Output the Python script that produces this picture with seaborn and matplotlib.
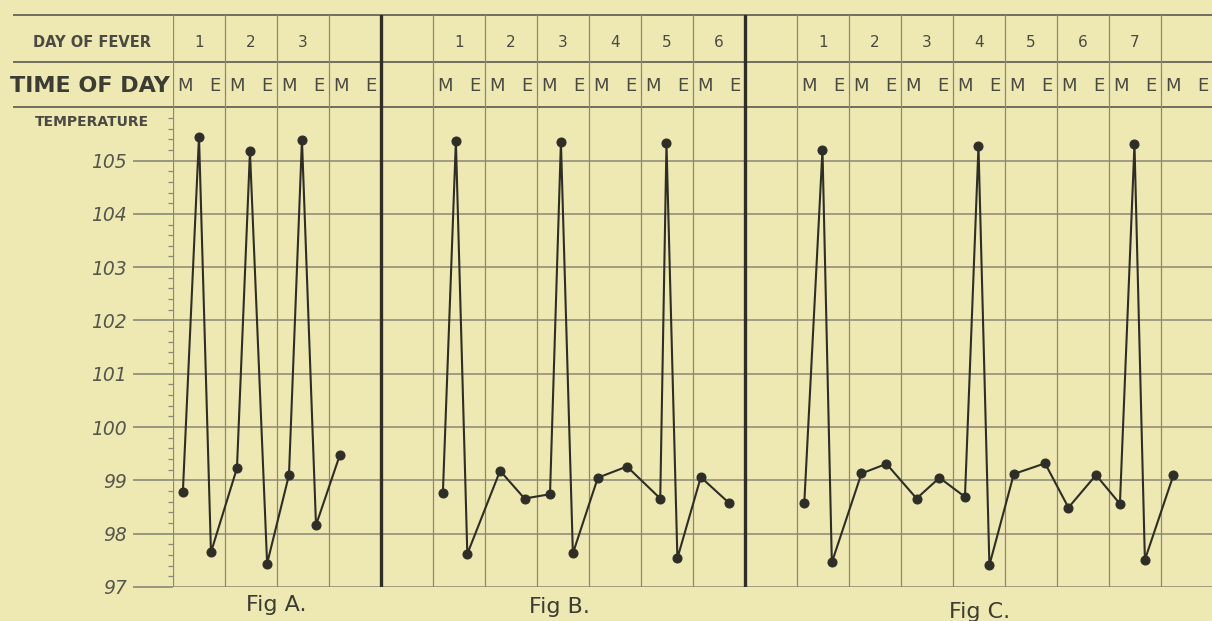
"""
plot.py - old malaria fever chart (Fig A, B, C), redrawn with seaborn
"""

import numpy as np
import pandas as pd
import matplotlib.pyplot as plt
import seaborn as sns

# readings: x is position in day-columns from the left edge of the grid
fig_a_x = [0.19, 0.50, 0.73, 1.23, 1.48, 1.81, 2.23, 2.48, 2.75, 3.21]
fig_a_temp = [98.79, 105.45, 97.65, 99.23, 105.17, 97.44, 99.10, 105.39, 98.16, 99.48]

fig_b_x = [5.19, 5.44, 5.66, 6.29, 6.76, 7.25, 7.46, 7.69, 8.17, 8.73,
           9.37, 9.49, 9.70, 10.15, 10.70]
fig_b_temp = [98.76, 105.37, 97.62, 99.18, 98.66, 98.74, 105.35, 97.63, 99.05, 99.26,
              98.66, 105.32, 97.54, 99.06, 98.57]

fig_c_x = [12.14, 12.49, 12.67, 13.24, 13.72, 14.30, 14.74, 15.23, 15.49, 15.70,
           16.17, 16.77, 17.22, 17.75, 18.21, 18.49, 18.69, 19.24]
fig_c_temp = [98.57, 105.20, 97.46, 99.13, 99.31, 98.66, 99.05, 98.69, 105.27, 97.41,
              99.12, 99.32, 98.49, 99.10, 98.56, 105.31, 97.51, 99.10]

# header labels
fig_a_days = ['1', '2', '3', '']
fig_b_days = ['1', '2', '3', '4', '5', '6']
fig_c_days = ['1', '2', '3', '4', '5', '6', '7', '']
fig_names = ['Fig A.', 'Fig B.', 'Fig C.']
temp_ticks = list(range(97, 106))

# layout (in day-columns / degrees)
panel_start = [0, 5, 12]
separators = [4, 11]
fig_label_x = [1.98, 7.44, 15.52]
fig_label_y = [96.66, 96.62, 96.53]

paper = '#EEE9B2'
ink = '#2e2d28'
rule = '#8a8874'
text_col = '#4a4a42'

df = pd.concat([
    pd.DataFrame({'x': fig_a_x, 'temp': fig_a_temp, 'fig': 'A'}),
    pd.DataFrame({'x': fig_b_x, 'temp': fig_b_temp, 'fig': 'B'}),
    pd.DataFrame({'x': fig_c_x, 'temp': fig_c_temp, 'fig': 'C'}),
])

sns.set_theme(style='white')
plt.rcParams['font.family'] = ['DejaVu Sans']

fig = plt.figure(figsize=(12.12, 6.21), dpi=100, facecolor=paper)
ax = fig.add_axes([173 / 1212, 34 / 621, 1039 / 1212, 572 / 621])
ax.set_facecolor(paper)
ax.set_xlim(0, 1039 / 52)
ax.set_ylim(97, 107.73)

for s in ax.spines.values():
    s.set_visible(False)

# temperature grid + ticks
ax.set_yticks(temp_ticks)
ax.set_yticklabels([str(t) for t in temp_ticks], fontstyle='italic')
ax.set_yticks(np.arange(97, 106, 0.2), minor=True)
ax.tick_params(axis='y', which='major', length=29, width=1.2, color=rule,
               pad=4, labelsize=13.5, labelcolor='#56564c', left=True)
ax.tick_params(axis='y', which='minor', length=3.6, width=0.9, color=rule, left=True)
ax.tick_params(axis='x', bottom=False, labelbottom=False)
for t in temp_ticks:
    ax.axhline(t, color=rule, lw=1.1, zorder=1)

# header rows
x_left = -160 / 52
for y in [106.0, 106.85, 107.73]:
    ax.hlines(y, x_left, 1039 / 52, color='#6f6d5c', lw=1.4, clip_on=False, zorder=1)

# day columns
for c in range(0, 20):
    if c in separators:
        ax.axvline(c, color=ink, lw=2.4, zorder=2)
    else:
        ax.axvline(c, color=rule, lw=0.9, zorder=1)

# day numbers and morning/evening letters
for start, days in zip(panel_start, [fig_a_days, fig_b_days, fig_c_days]):
    for i, d in enumerate(days):
        ax.text(start + i + 0.5, 107.21, d, ha='center', va='center',
                fontsize=11, color=text_col)
        ax.text(start + i + 0.24, 106.40, 'M', ha='center', va='center',
                fontsize=13, color=text_col)
        ax.text(start + i + 0.80, 106.40, 'E', ha='center', va='center',
                fontsize=13, color=text_col)

ax.text(-1.56, 107.21, 'DAY OF FEVER', ha='center', va='center',
        fontsize=10.5, color=text_col, fontweight='bold')
ax.text(-1.60, 106.40, 'TIME OF DAY', ha='center', va='center',
        fontsize=16, color='#3c3c35', fontweight='bold')
ax.text(-1.56, 105.72, 'TEMPERATURE', ha='center', va='center',
        fontsize=10, color=text_col, fontweight='bold')

# the temperature curves
sns.lineplot(data=df, x='x', y='temp', units='fig', estimator=None, sort=False,
             color=ink, lw=1.5, marker='o', markersize=6.5,
             markeredgecolor=ink, ax=ax, zorder=4, legend=False)
ax.set_xlabel('')
ax.set_ylabel('')

for name, fx, fy in zip(fig_names, fig_label_x, fig_label_y):
    ax.text(fx, fy, name, ha='center', va='center', fontsize=16, color='#3c3c35')

plt.savefig('out.png', dpi=100, facecolor=paper)
